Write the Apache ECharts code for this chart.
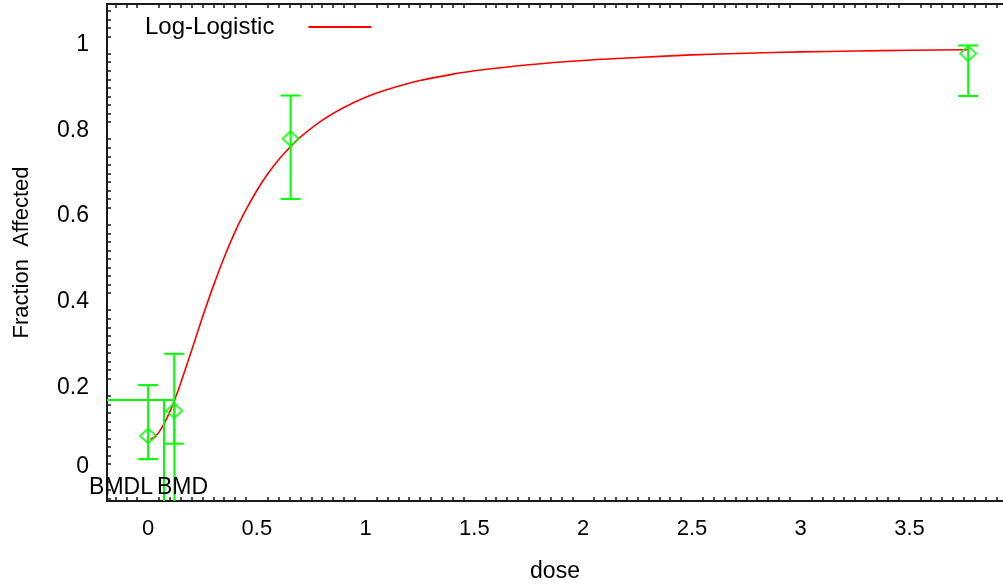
<!DOCTYPE html>
<html>
<head>
<meta charset="utf-8">
<script src="https://cdn.jsdelivr.net/npm/echarts@6/dist/echarts.min.js"></script>
<style>
  html, body { margin: 0; padding: 0; background: #fff; overflow: hidden; }
  #chart { width: 1003px; height: 588px; }
</style>
</head>
<body>
<div id="chart"></div>
<script>
// Observed dose groups: dose, fraction affected and confidence limits
const doses = [0, 0.12, 0.655, 3.77];
const fractions = [0.086, 0.145, 0.781, 0.980];
const lowerLimits = [0.032, 0.068, 0.640, 0.881];
const upperLimits = [0.205, 0.278, 0.882, 0.999];

// Fitted log-logistic curve, sampled along dose
const curveDoses = [0.01, 0.03, 0.05, 0.075, 0.1, 0.125, 0.15, 0.175, 0.2, 0.25, 0.3, 0.35, 0.4, 0.45, 0.5, 0.55, 0.6, 0.65, 0.7, 0.8, 0.9, 1.0, 1.1, 1.25, 1.4, 1.5, 1.75, 2.0, 2.25, 2.5, 2.75, 3.0, 3.25, 3.5, 3.77];
const curveValues = [0.078, 0.084, 0.095, 0.116, 0.143, 0.175, 0.210, 0.248, 0.286, 0.364, 0.437, 0.504, 0.564, 0.615, 0.660, 0.699, 0.732, 0.760, 0.785, 0.824, 0.854, 0.878, 0.896, 0.917, 0.932, 0.940, 0.954, 0.964, 0.971, 0.977, 0.981, 0.984, 0.986, 0.988, 0.989];

// Benchmark dose results
const bmr = 0.170;
const bmd = 0.121;
const bmdl = 0.073;

// Axis ranges
const xRange = [-0.189, 3.93];
const yRange = [-0.066, 1.096];

const FONT = "'Liberation Sans', Arial, sans-serif";
const GREEN = '#00ff00';
const RED = '#ff0000';
const AXIS = '#1a1a1a';

const chart = echarts.init(document.getElementById('chart'), null, { renderer: 'canvas' });

const curveData = curveDoses.map((d, i) => [d, curveValues[i]]);
const pointData = doses.map((d, i) => [d, fractions[i]]);
const barData = doses.map((d, i) => [d, lowerLimits[i], upperLimits[i]]);

function frameAxis(extra) {
  return Object.assign({
    type: 'value',
    axisLine: { show: true, onZero: false, lineStyle: { color: AXIS, width: 2 } },
    axisTick: { show: false, inside: true },
    minorTick: { show: true, splitNumber: 10, length: 4, lineStyle: { color: AXIS, width: 1.5 } },
    splitLine: { show: false },
    minorSplitLine: { show: false }
  }, extra);
}

chart.setOption({
  animation: false,
  backgroundColor: '#ffffff',
  grid: { left: 107, top: 4, width: 898, height: 499, containLabel: false },
  legend: {
    data: [{ name: 'Log-Logistic', icon: 'path://M0,0 L63,0 L63,2 L0,2 Z' }],
    left: 140, top: 10,
    align: 'right',
    itemWidth: 63, itemHeight: 2,
    textStyle: { fontFamily: FONT, fontSize: 24, color: '#000', padding: [0, 29, 0, 0] }
  },
  xAxis: [
    frameAxis({
      min: xRange[0], max: xRange[1],
      minInterval: 0.5, maxInterval: 0.5, splitNumber: 8,
      position: 'bottom',
      name: 'dose', nameLocation: 'middle', nameGap: 59,
      nameTextStyle: { fontFamily: FONT, fontSize: 23, color: '#000' },
      axisLabel: {
        showMinLabel: false, showMaxLabel: false, margin: 17,
        fontFamily: FONT, fontSize: 22, color: '#000'
      }
    }),
    frameAxis({
      min: xRange[0], max: xRange[1],
      minInterval: 0.5, maxInterval: 0.5, splitNumber: 8,
      position: 'top',
      axisLabel: { show: false }
    })
  ],
  yAxis: [
    frameAxis({
      min: yRange[0], max: yRange[1],
      minInterval: 0.2, maxInterval: 0.2, splitNumber: 5,
      position: 'left',
      name: 'Fraction  Affected', nameLocation: 'middle', nameGap: 74,
      nameTextStyle: { fontFamily: FONT, fontSize: 22, color: '#000' },
      axisLabel: {
        showMinLabel: false, showMaxLabel: false, margin: 18,
        fontFamily: FONT, fontSize: 23, color: '#000',
        formatter: function (v) { return v === 0 ? '{z|0}' : String(v); },
        rich: { z: { fontFamily: FONT, fontSize: 23, color: '#000', padding: [0, 0, 12, 0] } }
      }
    })
  ],
  series: [
    {
      name: 'Log-Logistic',
      type: 'line',
      data: curveData,
      smooth: 0.3,
      symbol: 'none',
      lineStyle: { color: RED, width: 1.6 },
      itemStyle: { color: RED },
      z: 3
    },
    {
      // confidence limits with caps
      type: 'custom',
      data: barData,
      renderItem: function (params, api) {
        const x = api.value(0);
        const lo = api.coord([x, api.value(1)]);
        const hi = api.coord([x, api.value(2)]);
        const cap = 10;
        const style = { stroke: GREEN, lineWidth: 2 };
        return {
          type: 'group',
          children: [
            { type: 'line', shape: { x1: lo[0], y1: lo[1], x2: hi[0], y2: hi[1] }, style: style },
            { type: 'line', shape: { x1: lo[0] - cap, y1: lo[1], x2: lo[0] + cap, y2: lo[1] }, style: style },
            { type: 'line', shape: { x1: hi[0] - cap, y1: hi[1], x2: hi[0] + cap, y2: hi[1] }, style: style }
          ]
        };
      },
      z: 4
    },
    {
      type: 'scatter',
      data: pointData,
      symbol: 'diamond',
      symbolSize: [16, 15],
      itemStyle: { color: 'rgba(0,0,0,0)', borderColor: GREEN, borderWidth: 2 },
      z: 5
    },
    {
      // BMR level with BMD and BMDL markers
      type: 'custom',
      data: [[bmdl, bmd, bmr]],
      renderItem: function (params, api) {
        const lo = api.value(0), md = api.value(1), level = api.value(2);
        const left = api.coord([xRange[0], level]);
        const mdTop = api.coord([md, level]);
        const mdBot = api.coord([md, yRange[0]]);
        const loTop = api.coord([lo, level]);
        const loBot = api.coord([lo, yRange[0]]);
        const style = { stroke: GREEN, lineWidth: 2 };
        const textY = mdBot[1] - 13;
        return {
          type: 'group',
          children: [
            { type: 'line', shape: { x1: left[0], y1: left[1], x2: mdTop[0], y2: mdTop[1] }, style: style },
            { type: 'line', shape: { x1: mdTop[0], y1: mdTop[1], x2: mdBot[0], y2: mdBot[1] }, style: style },
            { type: 'line', shape: { x1: loTop[0], y1: loTop[1], x2: loBot[0], y2: loBot[1] }, style: style },
            { type: 'text', x: loBot[0] - 11, y: textY,
              style: { text: 'BMDL', fill: '#000', font: '23px ' + FONT, align: 'right', verticalAlign: 'middle' } },
            { type: 'text', x: mdBot[0] + 8, y: textY,
              style: { text: 'BMD', fill: '#000', font: '23px ' + FONT, align: 'center', verticalAlign: 'middle' } }
          ]
        };
      },
      z: 6
    }
  ]
});
</script>
</body>
</html>
